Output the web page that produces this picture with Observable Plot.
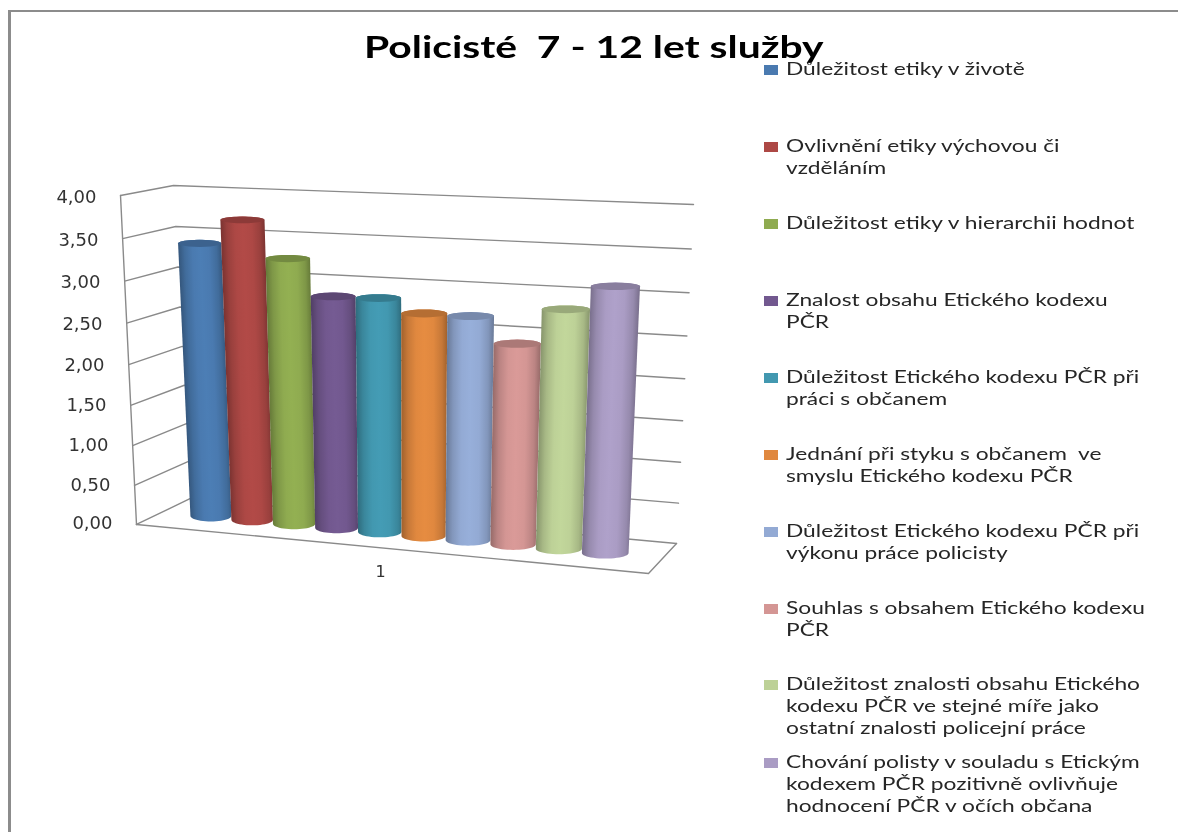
<!DOCTYPE html>
<html lang="cs">
<head>
<meta charset="utf-8">
<script src="https://cdn.jsdelivr.net/npm/d3@7"></script>
<script src="https://cdn.jsdelivr.net/npm/@observablehq/plot@0.6"></script>
<style>
html,body{margin:0;padding:0;background:#fff;overflow:hidden}
#page{position:relative;width:1178px;height:832px;overflow:hidden;background:#fff;filter:blur(.4px)}
#frame{position:absolute;left:8px;top:10px;width:1180px;height:840px;border-left:3px solid #8c8c8c;border-top:2px solid #8c8c8c;box-sizing:border-box}
#chart{position:absolute;left:0;top:0}
#chart svg{background:transparent}
h1{position:absolute;margin:0;left:364px;top:26px;font:700 30px/40px Lato,sans-serif;color:#000;white-space:pre;transform-origin:0 0;transform:scaleX(1.36)}
.lg{position:absolute;left:764px;width:420px}
.lg i{position:absolute;left:0;top:7px;width:14px;height:10px}
.lg span{display:block;margin-left:21.5px;font:400 17.5px/22px Lato,sans-serif;color:#262626;white-space:pre;transform-origin:0 0;transform:scaleX(1.3)}
</style>
</head>
<body>
<div id="page">
  <div id="frame"></div>
  <div id="chart"></div>
  <h1 id="title"></h1>
  <div id="legend"></div>
</div>
<script>
const chartTitle = "Policisté  7 - 12 let služby";
const seriesNames = [
  "Důležitost etiky v životě",
  "Ovlivnění etiky výchovou či\nvzděláním",
  "Důležitost etiky v hierarchii hodnot",
  "Znalost obsahu Etického kodexu\nPČR",
  "Důležitost Etického kodexu PČR při\npráci s občanem",
  "Jednání při styku s občanem  ve\nsmyslu Etického kodexu PČR",
  "Důležitost Etického kodexu PČR při\nvýkonu práce policisty",
  "Souhlas s obsahem Etického kodexu\nPČR",
  "Důležitost znalosti obsahu Etického\nkodexu PČR ve stejné míře jako\nostatní znalosti policejní práce",
  "Chování polisty v souladu s Etickým\nkodexem PČR pozitivně ovlivňuje\nhodnocení PČR v očích občana"
];
const seriesValues = [3.40, 3.70, 3.27, 2.85, 2.86, 2.71, 2.71, 2.42, 2.85, 3.14];
const seriesColors = ["#4a7ab0","#ad4845","#8fab50","#72588f","#4298b0","#e0883f","#93aad4","#d49694","#bdd197","#aa9cc4"];
const legendRows = [58, 135, 212, 289, 366, 443, 520, 597, 673, 751];
const valueTicks = [0, 0.5, 1, 1.5, 2, 2.5, 3, 3.5, 4];
const categoryLabels = ["1"];

// Oblique 3D box of the chart, corners in chart units (x: series slots, y: value axis)
const box = {
  fbl: [-1.233, -0.012], fbr: [10.457, -0.613], bbl: [0, 0.307], bbr: [11.096, -0.245],
  ftl: [-1.598, 4.025], ftr: [10.845, 3.742], btl: [-0.388, 4.147], btr: [11.484, 3.914]
};
const mix = (a, b, u) => a + (b - a) * u;
// perspective: value steps grow slightly towards the top of the box
const warp = (v) => { const u = v / 4; return u + 0.056 * (u * u - u); };
function project(s, d, v) {
  const w = warp(v);
  const c = (k) => mix(
    mix(mix(box.fbl[k], box.fbr[k], s), mix(box.bbl[k], box.bbr[k], s), d),
    mix(mix(box.ftl[k], box.ftr[k], s), mix(box.btl[k], box.btr[k], s), d),
    w
  );
  return {x: c(0), y: c(1)};
}
// slot edge t (0..1) to box position, with the slight perspective growth of the slots
const slot = (t) => 0.054 + 0.878 * (t + 0.073 * (t * t - t));
const capRy = (v) => 0.0675 - 0.007 * v;

function ellipseArc(i, v, a0, a1) {
  const L = project(slot(i / 10), 0.5, v), R = project(slot((i + 1) / 10), 0.5, v);
  const out = [];
  for (let n = 0; n <= 24; n++) {
    const a = a0 + (a1 - a0) * n / 24;
    out.push({
      x: (L.x + R.x) / 2 + (R.x - L.x) / 2 * Math.cos(a),
      y: (L.y + R.y) / 2 + capRy(v) * Math.sin(a)
    });
  }
  return out;
}
const body = (i) => [
  ...ellipseArc(i, 0, Math.PI, 2 * Math.PI),
  ...ellipseArc(i, seriesValues[i], 0, Math.PI)
];
const cap = (i) => ellipseArc(i, seriesValues[i], 0, 2 * Math.PI);

// gridlines on the walls and floor
const wallLines = valueTicks.flatMap((v) =>
  [project(0, 0, v), project(0, 1, v), project(1, 1, v)].map((p) => ({...p, z: "v" + v}))
);
const floorEdge = [project(0, 0, 0), project(1, 0, 0), project(1, 1, 0)];
const frontEdge = [project(0, 0, 0), project(0, 0, 4)];

// Cylinder shading: a gradient whose bands follow the lean of each bar
function gradients() {
  const ns = "http://www.w3.org/2000/svg";
  const defs = document.createElementNS(ns, "defs");
  seriesColors.forEach((c, i) => {
    const g = document.createElementNS(ns, "linearGradient");
    g.setAttribute("id", "cyl" + i);
    const v = seriesValues[i];
    const tl = project(slot(i / 10), 0.5, v), tr = project(slot((i + 1) / 10), 0.5, v);
    const bl = project(slot(i / 10), 0.5, 0), br = project(slot((i + 1) / 10), 0.5, 0);
    const minX = Math.min(tl.x, bl.x), maxX = Math.max(tr.x, br.x), W = maxX - minX;
    const du = (bl.x - tl.x) / W;
    const n = Math.hypot(1, du);
    const wid = ((tr.x - tl.x) / W) / n;
    const x0 = (tl.x - minX) / W;
    g.setAttribute("x1", x0);
    g.setAttribute("y1", 0);
    g.setAttribute("x2", x0 + wid / n);
    g.setAttribute("y2", -du * wid / n);
    const base = d3.color(c);
    const dark = base.darker(0.95).formatHex();
    const mid = base.darker(0.35).formatHex();
    [[0, dark], [0.14, mid], [0.32, base.formatHex()], [0.5, base.brighter(0.08).formatHex()], [0.7, base.formatHex()], [0.88, mid], [1, dark]]
      .forEach(([o, col]) => {
        const s = document.createElementNS(ns, "stop");
        s.setAttribute("offset", o);
        s.setAttribute("stop-color", col);
        g.appendChild(s);
      });
    defs.appendChild(g);
  });
  return defs;
}

const plot = Plot.plot({
  width: 1178,
  height: 832,
  marginLeft: 190,
  marginRight: 550,
  marginTop: 197,
  marginBottom: 309,
  x: {domain: [0, 10], axis: null},
  y: {domain: [0, 4]},
  style: {background: "transparent"},
  marks: [
    gradients,
    Plot.line(wallLines, {x: "x", y: "y", z: "z", stroke: "#8a8a8a", strokeWidth: 1.4}),
    Plot.line(floorEdge, {x: "x", y: "y", stroke: "#8a8a8a", strokeWidth: 1.4}),
    Plot.line(frontEdge, {x: "x", y: "y", stroke: "#8a8a8a", strokeWidth: 1.4}),
    ...seriesValues.flatMap((_, i) => [
      Plot.line(body(i), {x: "x", y: "y", fill: `url(#cyl${i})`, stroke: "none"}),
      Plot.line(cap(i), {x: "x", y: "y", fill: d3.color(seriesColors[i]).darker(0.6).formatHex(), stroke: "none"})
    ]),
    Plot.axisY(valueTicks, {
      x: (v) => (96 + (4 - v) * 4 - 190) / 43.8,
      y: (v) => warp(v) * 4,
      text: (v) => v.toFixed(2).replace(".", ","),
      tickSize: 0,
      tickPadding: 0,
      label: null,
      fontSize: 18,
      fontFamily: "DejaVu Sans",
      fill: "#333"
    }),
    Plot.text(categoryLabels, {
      x: () => 4.34,
      y: () => -0.59,
      text: (d) => d,
      fontSize: 16,
      fontFamily: "DejaVu Sans",
      fill: "#333"
    })
  ]
});
document.getElementById("chart").appendChild(plot);
document.getElementById("title").textContent = chartTitle;

const legend = document.getElementById("legend");
seriesNames.forEach((name, i) => {
  const row = document.createElement("div");
  row.className = "lg";
  row.style.top = legendRows[i] + "px";
  const sw = document.createElement("i");
  sw.style.background = seriesColors[i];
  const tx = document.createElement("span");
  tx.textContent = name;
  row.append(sw, tx);
  legend.appendChild(row);
});
</script>
</body>
</html>
